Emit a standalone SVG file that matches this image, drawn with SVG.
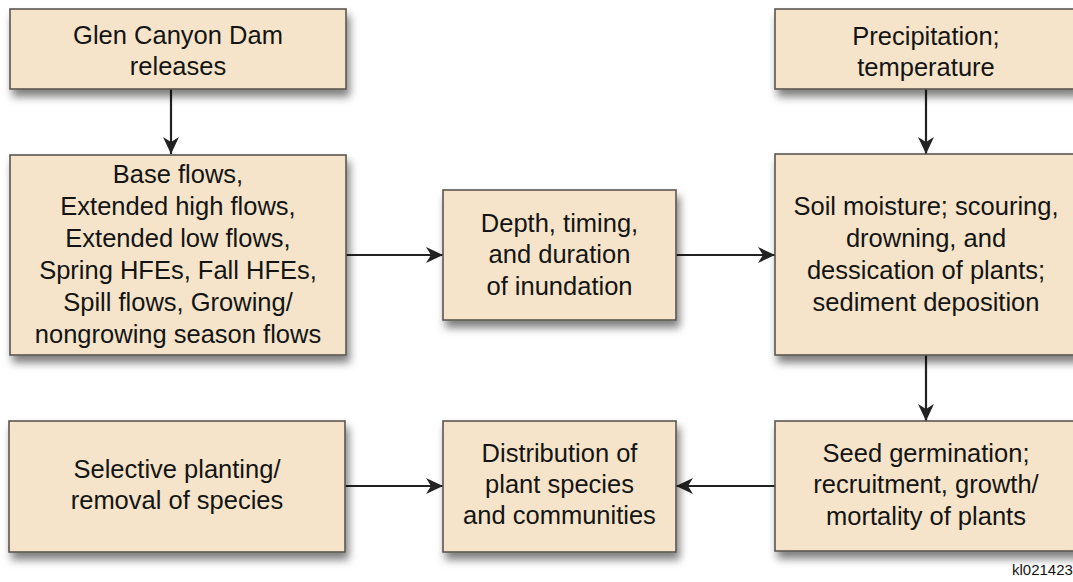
<svg xmlns="http://www.w3.org/2000/svg" width="1073" height="582" viewBox="0 0 1073 582">
  <style>
    .box { fill: #f5e4c9; stroke: #5b5650; stroke-width: 1.6; filter: url(#shadow); }
    .lbl { font-family: "Liberation Sans", Arial, Helvetica, sans-serif; font-size: 25.5px; fill: #141414; text-anchor: middle; }
    .link { stroke: #222222; stroke-width: 2.2; fill: none; marker-end: url(#head); }
    .code { font-family: "Liberation Sans", Arial, sans-serif; font-size: 15px; fill: #141414; }
  </style>
  <defs>
    <filter id="shadow" x="-10%" y="-10%" width="130%" height="140%">
      <feDropShadow dx="3" dy="7" stdDeviation="4" flood-color="#000" flood-opacity="0.5"/>
    </filter>
    <marker id="head" markerUnits="userSpaceOnUse" markerWidth="18" markerHeight="16" refX="17" refY="8" orient="auto">
      <path d="M0,0 L17,8 L0,16 L5,8 z" fill="#222222"/>
    </marker>
  </defs>

  <rect width="1073" height="582" fill="#ffffff"/>

  <!-- connectors -->
  <g id="connectors">
    <line class="link" x1="171" y1="89" x2="171" y2="154"/>
    <line class="link" x1="346" y1="255" x2="443" y2="255"/>
    <line class="link" x1="676" y1="255" x2="775" y2="255"/>
    <line class="link" x1="926" y1="89" x2="926" y2="154"/>
    <line class="link" x1="926" y1="355" x2="926" y2="421"/>
    <line class="link" x1="345" y1="486" x2="443" y2="486"/>
    <line class="link" x1="775" y1="486" x2="676" y2="486"/>
  </g>

  <g id="dam-releases">
    <rect class="box" x="10" y="9" width="336" height="80"/>
    <text class="lbl" x="178" y="44">Glen Canyon Dam</text>
    <text class="lbl" x="178" y="75">releases</text>
  </g>

  <g id="flow-types">
    <rect class="box" x="10" y="155" width="336" height="200"/>
    <text class="lbl" x="178" y="183">Base flows,</text>
    <text class="lbl" x="178" y="215">Extended high flows,</text>
    <text class="lbl" x="178" y="247">Extended low flows,</text>
    <text class="lbl" x="178" y="279">Spring HFEs, Fall HFEs,</text>
    <text class="lbl" x="178" y="311">Spill flows, Growing/</text>
    <text class="lbl" x="178" y="343">nongrowing season flows</text>
  </g>

  <g id="inundation">
    <rect class="box" x="443" y="190" width="233" height="130"/>
    <text class="lbl" x="559.5" y="232">Depth, timing,</text>
    <text class="lbl" x="559.5" y="263">and duration</text>
    <text class="lbl" x="559.5" y="295">of inundation</text>
  </g>

  <g id="climate">
    <rect class="box" x="775" y="9" width="303" height="80"/>
    <text class="lbl" x="926" y="45">Precipitation;</text>
    <text class="lbl" x="926" y="76">temperature</text>
  </g>

  <g id="soil-effects">
    <rect class="box" x="775" y="154" width="303" height="201"/>
    <text class="lbl" x="926" y="215">Soil moisture; scouring,</text>
    <text class="lbl" x="926" y="247">drowning, and</text>
    <text class="lbl" x="926" y="279">dessication of plants;</text>
    <text class="lbl" x="926" y="311">sediment deposition</text>
  </g>

  <g id="plant-life-cycle">
    <rect class="box" x="775" y="421" width="303" height="130"/>
    <text class="lbl" x="926" y="462">Seed germination;</text>
    <text class="lbl" x="926" y="493">recruitment, growth/</text>
    <text class="lbl" x="926" y="525">mortality of plants</text>
  </g>

  <g id="distribution">
    <rect class="box" x="443" y="421" width="233" height="131"/>
    <text class="lbl" x="559.5" y="462">Distribution of</text>
    <text class="lbl" x="559.5" y="493">plant species</text>
    <text class="lbl" x="559.5" y="524">and communities</text>
  </g>

  <g id="planting">
    <rect class="box" x="9" y="421" width="336" height="131"/>
    <text class="lbl" x="177" y="478">Selective planting/</text>
    <text class="lbl" x="177" y="509">removal of species</text>
  </g>

  <text class="code" x="1012" y="575">kl021423</text>
</svg>
